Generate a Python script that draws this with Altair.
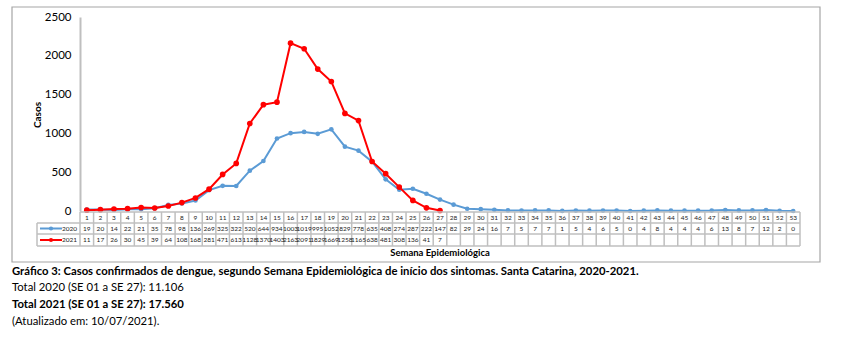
import altair as alt
import pandas as pd

weeks = list(range(1, 54))
cases_2020 = [19, 20, 14, 22, 21, 35, 78, 98, 136, 269, 325, 322, 520, 644, 934, 1003, 1019, 995,
              1052, 829, 778, 635, 408, 274, 287, 222, 147, 82, 29, 24, 16, 7, 5, 7, 7, 1, 5, 4,
              6, 5, 0, 4, 8, 4, 4, 4, 6, 13, 8, 7, 12, 2, 0]
weeks_2021 = list(range(1, 28))
cases_2021 = [11, 17, 26, 30, 45, 39, 64, 108, 168, 281, 471, 613, 1128, 1370, 1403, 2163, 2091,
              1829, 1669, 1258, 1165, 638, 481, 308, 136, 41, 7]
series_labels = ["2020", "2021"]
series_colors = ["#5b9bd5", "#ff0000"]
y_ticks = [0, 500, 1000, 1500, 2000, 2500]
x_title = "Semana Epidemiológica"
y_title = "Casos"
caption_lines = [
    ("Gráfico 3: Casos confirmados de dengue, segundo Semana Epidemiológica de início dos sintomas. Santa Catarina, 2020-2021.", "bold"),
    ("Total 2020 (SE 01 a SE 27): 11.106", "normal"),
    ("Total 2021 (SE 01 a SE 27): 17.560", "bold"),
    ("(Atualizado em: 10/07/2021).", "normal"),
]

FONT = "Lato"
GRID = "#bfbfbf"

df2020 = pd.DataFrame({"week": weeks, "casos": cases_2020, "ano": series_labels[0]})
df2021 = pd.DataFrame({"week": weeks_2021, "casos": cases_2021, "ano": series_labels[1]})

xscale = alt.Scale(domain=[0.5, 53.5], nice=False, zero=False)
yscale = alt.Scale(domain=[0, 2500], nice=False)
cscale = alt.Scale(domain=series_labels, range=series_colors)

def series_layers(df, stroke, size):
    base = alt.Chart(df).encode(
        x=alt.X("week:Q", scale=xscale, axis=None),
        y=alt.Y("casos:Q", scale=yscale,
                axis=alt.Axis(values=y_ticks, format="d", ticks=False, grid=False, domainColor=GRID,
                              domainWidth=2, labelFontSize=11.5, labelColor="#000000",
                              labelFont=FONT, labelPadding=9, title=None)),
        color=alt.Color("ano:N", scale=cscale, legend=None),
    )
    return [base.mark_line(strokeWidth=stroke), base.mark_point(filled=True, size=size, opacity=1)]

layers = []
layers += series_layers(df2020, 2, 22)
layers += series_layers(df2021, 2, 32)

# table grid
edges = pd.DataFrame({"edge": [w - 0.5 for w in weeks] + [weeks[-1] + 0.5]})
layers.append(alt.Chart(edges).mark_rule(color=GRID, strokeWidth=1.5).encode(
    x=alt.X("edge:Q", scale=xscale), y=alt.value(195), y2=alt.value(229)))
one = pd.DataFrame({"a": [0]})
layers.append(alt.Chart(one).mark_rule(color=GRID, strokeWidth=1.5).encode(
    x=alt.value(0), x2=alt.value(720), y=alt.value(195)))
for yy in [206, 217, 229]:
    layers.append(alt.Chart(one).mark_rule(color=GRID, strokeWidth=1.5).encode(
        x=alt.value(-43), x2=alt.value(720), y=alt.value(yy)))
layers.append(alt.Chart(one).mark_rule(color=GRID, strokeWidth=1.5).encode(
    x=alt.value(-43), y=alt.value(206), y2=alt.value(229)))

# table texts
dfw = pd.DataFrame({"week": weeks, "lab": [str(w) for w in weeks]})
layers.append(alt.Chart(dfw).mark_text(fontSize=6.5, font=FONT, color="#222222").encode(
    x=alt.X("week:Q", scale=xscale), y=alt.value(200.5), text="lab:N"))
layers.append(alt.Chart(df2020).mark_text(fontSize=6.5, font=FONT, color="#222222").encode(
    x=alt.X("week:Q", scale=xscale), y=alt.value(211.5), text="casos:Q"))
layers.append(alt.Chart(df2021).mark_text(fontSize=6.5, font=FONT, color="#222222").encode(
    x=alt.X("week:Q", scale=xscale), y=alt.value(223), text="casos:Q"))

# legend keys inside table
for lab, col, yy in zip(series_labels, series_colors, [211.5, 223]):
    dl = pd.DataFrame({"lab": [lab]})
    layers.append(alt.Chart(dl).mark_rule(color=col, strokeWidth=2).encode(
        x=alt.value(-40), x2=alt.value(-18), y=alt.value(yy)))
    layers.append(alt.Chart(dl).mark_point(filled=True, color=col, size=18, opacity=1).encode(
        x=alt.value(-29), y=alt.value(yy)))
    layers.append(alt.Chart(dl).mark_text(fontSize=6.5, font=FONT, color="#222222", align="right").encode(
        x=alt.value(-3), y=alt.value(yy), text="lab:N"))

# axis titles
layers.append(alt.Chart(pd.DataFrame({"t": [x_title]})).mark_text(
    fontSize=9.5, font=FONT, fontWeight="bold", color="#000000").encode(
    x=alt.value(360), y=alt.value(236), text="t:N"))
layers.append(alt.Chart(pd.DataFrame({"t": [y_title]})).mark_text(
    fontSize=10, font=FONT, fontWeight="bold", color="#000000", angle=270).encode(
    x=alt.value(-42), y=alt.value(98), text="t:N"))

# frame
layers.append(alt.Chart(one).mark_rect(fill=None, stroke="#a6a6a6", strokeWidth=1.2).encode(
    x=alt.value(-68), x2=alt.value(740), y=alt.value(-10), y2=alt.value(245)))

# caption
for (txt, wt), yy in zip(caption_lines, [255, 271, 288, 305]):
    layers.append(alt.Chart(pd.DataFrame({"t": [txt]})).mark_text(
        fontSize=11.3, font=FONT, fontWeight=wt, color="#000000", align="left").encode(
        x=alt.value(-68), y=alt.value(yy), text="t:N"))

chart = alt.layer(*layers).properties(
    width=720, height=194,
    autosize=alt.AutoSizeParams(type="none"),
    padding={"left": 80, "top": 17, "right": 63, "bottom": 135},
    background="white",
).configure_view(stroke=None)

chart.save("out.html", embed_options={"renderer": "svg", "actions": False})
